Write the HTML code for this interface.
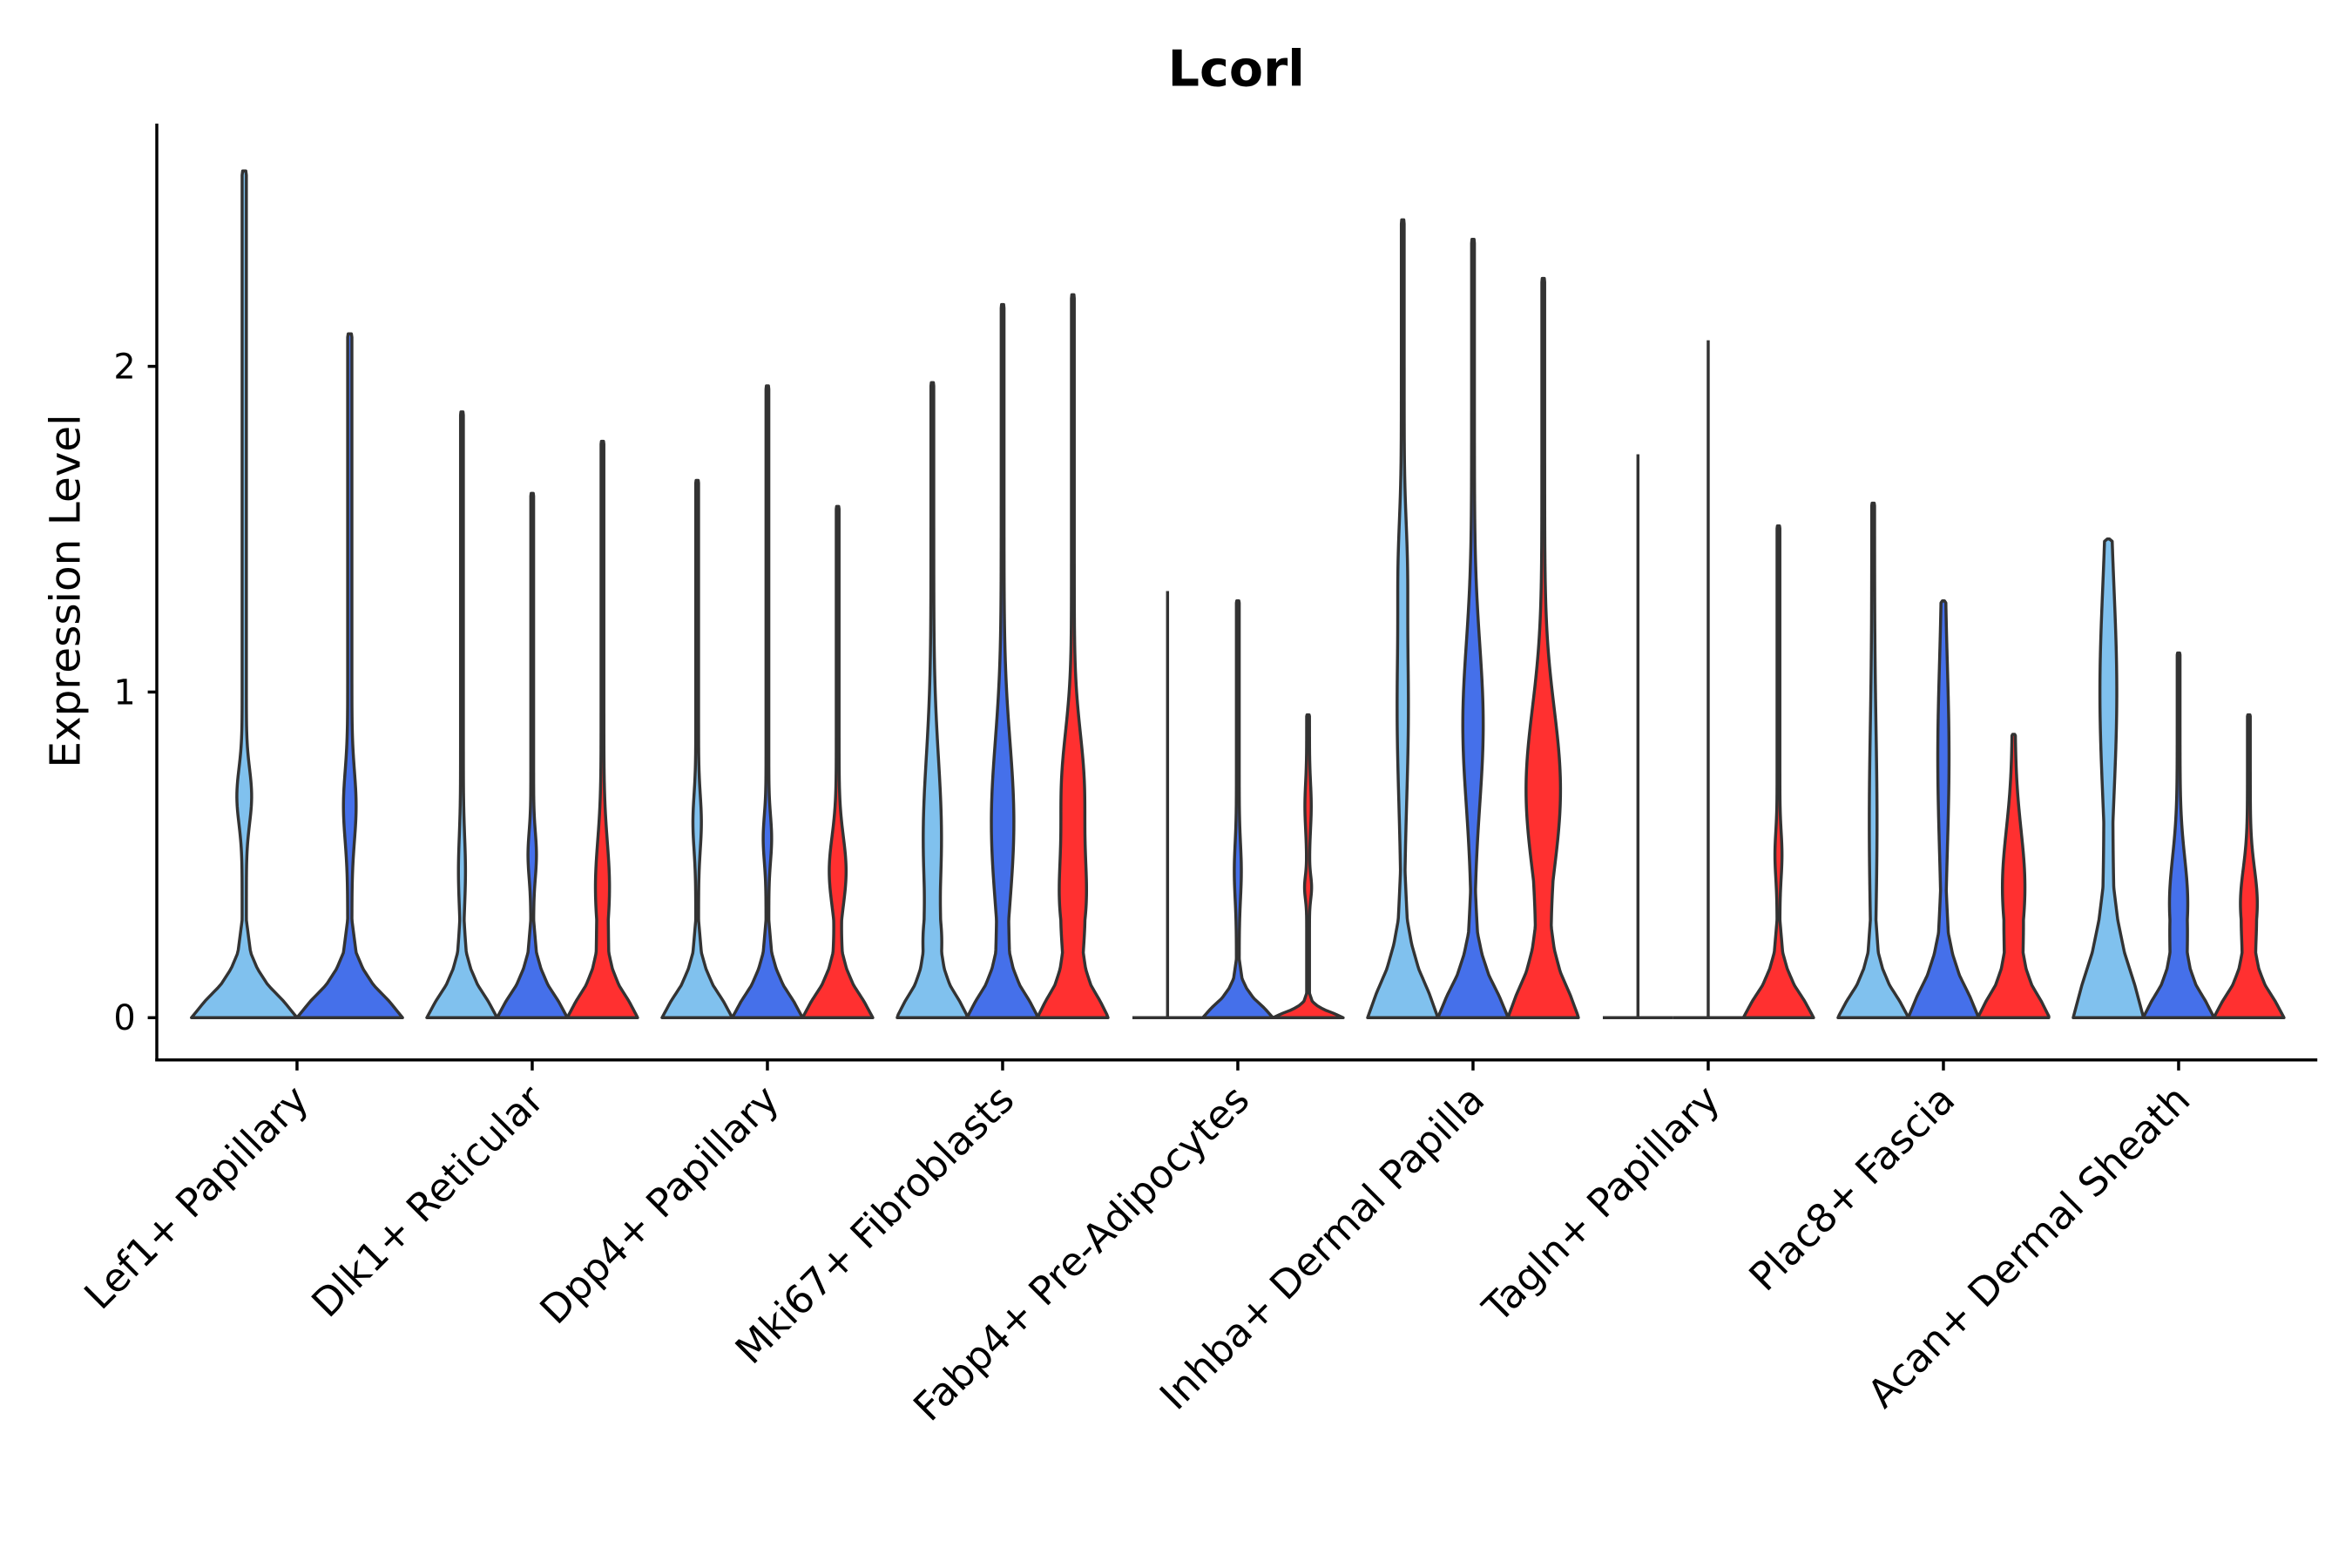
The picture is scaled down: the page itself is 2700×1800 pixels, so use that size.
<!DOCTYPE html>
<html><head><meta charset="utf-8"><style>
html,body{margin:0;padding:0;background:#fff;}
svg{display:block;}
text{font-family:"DejaVu Sans","Liberation Sans",sans-serif;fill:#000;}
</style></head><body>
<svg id="chart" width="2700" height="1800" viewBox="0 0 1560 1040" xmlns="http://www.w3.org/2000/svg">
<rect width="1560" height="1040" fill="#fff"/>
<text x="820" y="57" text-anchor="middle" font-size="33" font-weight="bold">Lcorl</text>
<text transform="translate(53,392) rotate(-90)" text-anchor="middle" font-size="28">Expression Level</text>
<g id="violins"></g>
<g id="axes"></g>
</svg>
<script>
const categories = ["Lef1+ Papillary","Dlk1+ Reticular","Dpp4+ Papillary","Mki67+ Fibroblasts","Fabp4+ Pre-Adipocytes","Inhba+ Dermal Papilla","Tagln+ Papillary","Plac8+ Fascia","Acan+ Dermal Sheath"];
const yTicks = [0,1,2];
const seriesNames = ["light","blue","red"];
const seriesColors = {light:"#80C1EE", blue:"#4570EA", red:"#FF3030"};
const violinGroup = [0,0, 1,1,1, 2,2,2, 3,3,3, 4,4,4, 5,5,5, 6,6,6, 7,7,7, 8,8,8];
const violinSeries = ["light","blue", "light","blue","red", "light","blue","red", "light","blue","red", "light","blue","red", "light","blue","red", "light","blue","red", "light","blue","red", "light","blue","red"];
const violinMax = [2.6,2.1, 1.86,1.61,1.77, 1.65,1.94,1.57, 1.95,2.19,2.22, 1.31,1.28,0.93, 2.45,2.39,2.27, 1.73,2.08,1.51, 1.58,1.28,0.87, 1.47,1.12,0.93];
const violinBaseH = [1,1, 1,1,1, 1,1,1, 1,1,1, 0,0.6,0.25, 1.5,1.3,1.4, 0,0,1, 1,1.3,1, 2,1,1];
const violinBulges = [
 [[0.68,0.12,0.1]],[[0.65,0.15,0.08]],
 [[0.45,0.15,0.06]],[[0.5,0.1,0.08]],[[0.4,0.2,0.16]],
 [[0.6,0.12,0.08]],[[0.55,0.1,0.08]],[[0.45,0.15,0.2]],
 [[0.55,0.35,0.22],[0.25,0.1,0.08]],[[0.6,0.35,0.28]],[[0.35,0.2,0.3],[0.7,0.25,0.28]],
 [],[[0.45,0.12,0.06]],[[0.4,0.05,0.06],[0.65,0.1,0.05]],
 [[0.95,0.4,0.12],[1.4,0.2,0.06]],[[0.9,0.35,0.25]],[[0.7,0.35,0.45]],
 [],[],[[0.5,0.1,0.06]],
 [[0.6,0.4,0.07]],[[0.8,0.4,0.12]],[[0.4,0.25,0.28]],
 [[1.0,0.45,0.2]],[[0.35,0.2,0.22]],[[0.35,0.15,0.2]]
];
const baseV = [0,0.05,0.1,0.15,0.2,0.3];
const baseW = [1,0.75,0.45,0.25,0.12,0.04];

const X0=104, X1=1537, YTOP=82, YBOT=703;
function yScale(v){ return 675 - v*216; }
function xCat(i){ return 197 + i*156; }
function baseProfile(t){
  if(t>=baseV[baseV.length-1]) return baseW[baseW.length-1];
  for(let k=0;k<baseV.length-1;k++){
    if(t<=baseV[k+1]){ const f=(t-baseV[k])/(baseV[k+1]-baseV[k]); return baseW[k]+f*(baseW[k+1]-baseW[k]); }
  }
  return baseW[0];
}
const NS="http://www.w3.org/2000/svg";
const gV=document.getElementById('violins');
const groupCounts = categories.map((c,i)=>violinGroup.filter(g=>g===i).length);
const seenInGroup = categories.map(()=>0);
for(let i=0;i<violinMax.length;i++){
  const g=violinGroup[i], n=groupCounts[g], k=seenInGroup[g]++;
  const hw = n===2?35:23.3;
  const cx = xCat(g) + (k-(n-1)/2)*hw*2;
  const color = seriesColors[violinSeries[i]];
  const mx = violinMax[i], bh = violinBaseH[i];
  let d;
  if(bh===0){
    d = `M${cx-hw},${yScale(0)} L${cx+hw},${yScale(0)} M${cx},${yScale(0)} L${cx},${yScale(mx)}`;
    const p=document.createElementNS(NS,'path');
    p.setAttribute('d',d);p.setAttribute('stroke','#333');p.setAttribute('stroke-width','2');p.setAttribute('fill','none');
    
    
    gV.appendChild(p); continue;
  }
  const right=[], left=[];
  const steps=200;
  for(let s=0;s<=steps;s++){
    const v=mx*s/steps;
    let w=baseProfile(v/bh);
    for(const b of violinBulges[i]) w+=b[2]*Math.exp(-Math.pow((v-b[0])/b[1],2));
    w=Math.min(1,w);
    if(s===steps) w=Math.min(w,0.03);
    const px=Math.max(w*hw,0.5);
    right.push(`${(cx+px).toFixed(2)},${yScale(v).toFixed(2)}`);
    left.unshift(`${(cx-px).toFixed(2)},${yScale(v).toFixed(2)}`);
  }
  d='M'+right.join(' L')+' L'+left.join(' L')+' Z';
  const p=document.createElementNS(NS,'path');
  p.setAttribute('d',d);p.setAttribute('fill',color);p.setAttribute('stroke','#333');p.setAttribute('stroke-width','2');p.setAttribute('stroke-linejoin','round');
  
  
  gV.appendChild(p);
}
const gA=document.getElementById('axes');
function line(x1,y1,x2,y2,name){
  const l=document.createElementNS(NS,'line');
  l.setAttribute('x1',x1);l.setAttribute('y1',y1);l.setAttribute('x2',x2);l.setAttribute('y2',y2);
  l.setAttribute('stroke','#000');l.setAttribute('stroke-width','2');
  
  
  gA.appendChild(l);
}
line(X0,YTOP,X0,YBOT+1,'y-axis-line');
line(X0-1,YBOT,X1,YBOT,'x-axis-line');
yTicks.forEach(t=>{
  const y=yScale(t);
  line(X0-6,y,X0,y,'y-tick');
  const tx=document.createElementNS(NS,'text');
  tx.setAttribute('x',X0-14);tx.setAttribute('y',y+8);tx.setAttribute('text-anchor','end');tx.setAttribute('font-size','23');
  tx.textContent=t;
  
  
  gA.appendChild(tx);
});
categories.forEach((c,i)=>{
  const x=xCat(i);
  line(x,YBOT,x,YBOT+7,'x-tick');
  const tx=document.createElementNS(NS,'text');
  tx.setAttribute('transform',`translate(${x+9},${YBOT+28}) rotate(-45)`);
  tx.setAttribute('text-anchor','end');tx.setAttribute('font-size','26');
  tx.textContent=c;
  
  
  gA.appendChild(tx);
});
</script>
</body></html>
